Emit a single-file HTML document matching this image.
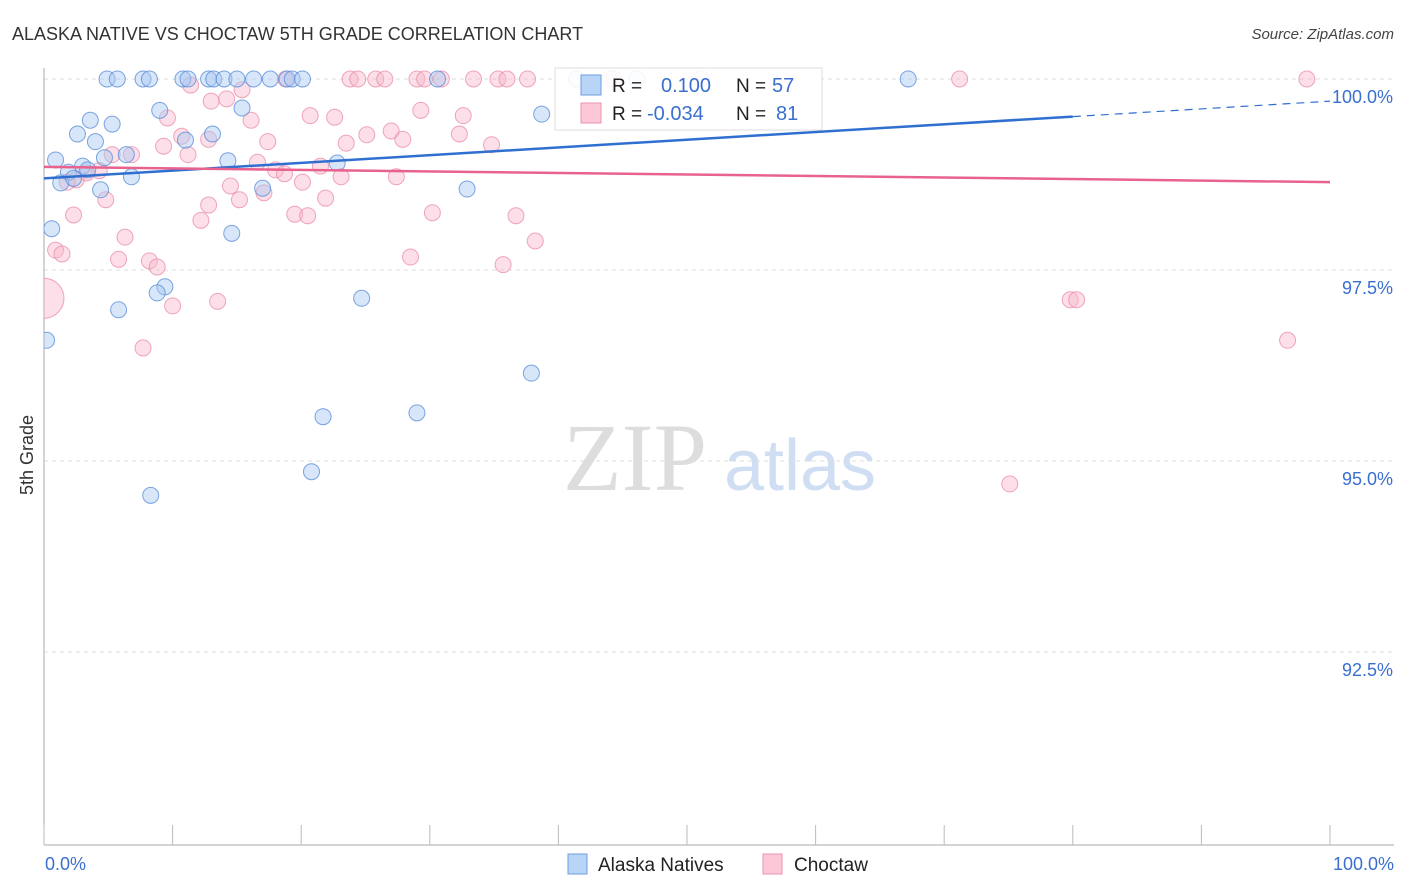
<!DOCTYPE html>
<html><head><meta charset="utf-8"><style>
body{margin:0;background:#fff;font-family:"Liberation Sans",sans-serif;}
svg{display:block}
</style></head><body>
<svg id="chart" width="1406" height="892" xmlns="http://www.w3.org/2000/svg">
<defs><clipPath id="plotclip"><rect x="44" y="40" width="1362" height="805"/></clipPath></defs>
<text x="12" y="40" font-size="18" fill="#333">ALASKA NATIVE VS CHOCTAW 5TH GRADE CORRELATION CHART</text>
<text x="1394" y="39" font-size="15" fill="#444" text-anchor="end" font-style="italic">Source: ZipAtlas.com</text>
<g>
<text x="635" y="490" font-size="96" fill="#ddd" font-family="Liberation Serif,serif" text-anchor="middle">ZIP</text>
<text x="800" y="490" font-size="72" fill="#d0def3" text-anchor="middle">atlas</text>
</g>
<g id="grid"></g>
<g id="axes"></g>
<g id="points" clip-path="url(#plotclip)"></g>
<g id="trends"></g>
<text transform="translate(33,455) rotate(-90)" font-size="18" fill="#333" text-anchor="middle">5th Grade</text>
<g>
<rect x="555" y="68" width="267" height="62" fill="#fff" fill-opacity="0.9" stroke="#ddd"/>
<rect x="581" y="75" width="20" height="20" fill="#b8d4f7" stroke="#6c9ee0"/>
<rect x="581" y="103" width="20" height="20" fill="#fcc8d8" stroke="#ec93af"/>
<text x="612" y="92" font-size="19" fill="#222">R = </text><text x="661" y="92" font-size="20" fill="#3a6fd0">0.100</text>
<text x="736" y="92" font-size="19" fill="#222">N = </text><text x="772" y="92" font-size="20" fill="#3a6fd0">57</text>
<text x="612" y="120" font-size="19" fill="#222">R = </text><text x="647" y="120" font-size="20" fill="#3a6fd0">-0.034</text>
<text x="736" y="120" font-size="19" fill="#222">N = </text><text x="776" y="120" font-size="20" fill="#3a6fd0">81</text>
</g>
<g>
<rect x="568" y="854" width="19" height="20" fill="#b8d4f7" stroke="#6c9ee0"/>
<text x="598" y="871" font-size="19" fill="#222">Alaska Natives</text>
<rect x="763" y="854" width="19" height="20" fill="#fcc8d8" stroke="#ec93af"/>
<text x="794" y="871" font-size="19" fill="#222">Choctaw</text>
</g>
</svg>
<script>
const yTicks=[100,97.5,95,92.5];
const yTickLabels=["100.0%","97.5%","95.0%","92.5%"];
const xTickCount=10;
const blueX=[4.9,5.7,7.7,8.2,10.8,11.2,12.8,13.2,14.0,15.0,16.3,17.6,18.9,19.3,20.1,30.6,41.4,67.2,46.1,9.0,3.6,5.3,2.6,4.0,13.1,11.0,0.9,6.4,4.7,3.0,1.9,3.4,14.3,22.8,1.3,6.8,4.4,17.0,32.9,38.7,15.4,0.6,14.6,9.4,8.8,24.7,5.8,0.2,37.9,21.7,29.0,20.8,8.3,2.3];
const blueY=[100,100,100,100,100,100,100,100,100,100,100,100,100,100,100,100,100,100,100,99.59,99.46,99.41,99.28,99.18,99.28,99.20,98.94,99.01,98.97,98.86,98.78,98.81,98.93,98.90,98.64,98.72,98.55,98.57,98.56,99.54,99.62,98.04,97.98,97.28,97.20,97.13,96.98,96.58,96.15,95.58,95.63,94.86,94.55,98.70];
const pinkX=[11.4,13.0,15.4,9.6,14.2,11.2,16.1,20.7,22.6,29.3,32.6,10.7,12.8,17.4,9.3,5.3,6.8,4.3,3.3,2.5,1.8,4.8,2.3,6.3,0.9,1.4,5.8,8.2,8.8,10.0,13.5,7.7,16.6,18.0,18.7,21.5,23.1,20.1,14.5,17.1,15.2,12.8,12.2,19.5,20.5,21.9,23.5,25.1,27.0,27.9,27.4,30.2,32.3,34.8,36.7,38.2,35.7,28.5,79.8,80.3,96.7,75.1,18.8,23.8,24.4,25.8,26.5,29.0,29.6,30.9,33.4,35.3,36.0,37.6,44.3,51.1,71.2,98.2,44.0];
const pinkY=[99.92,99.71,99.86,99.49,99.74,99.01,99.46,99.52,99.50,99.59,99.52,99.25,99.21,99.18,99.12,99.01,99.01,98.80,98.77,98.68,98.65,98.42,98.22,97.93,97.76,97.71,97.64,97.62,97.54,97.03,97.09,96.48,98.91,98.81,98.76,98.86,98.72,98.65,98.60,98.51,98.42,98.35,98.15,98.23,98.21,98.44,99.16,99.27,99.32,99.21,98.72,98.25,99.28,99.14,98.21,97.88,97.57,97.67,97.11,97.11,96.58,94.70,100,100,100,100,100,100,100,100,100,100,100,100,100,100,100,100,100];
const bigPoint=[0,97.13];
const blueTrend=[98.70,99.71];
const pinkTrend=[98.85,98.65];
const NS="http://www.w3.org/2000/svg";
const X0=44,X1=1330,Y100=79,PX=191/2.5;
const sx=v=>X0+(X1-X0)*v/100;
const sy=v=>Y100+(100-v)*PX;
function mk(tag,attrs,parent){const e=document.createElementNS(NS,tag);for(const k in attrs)e.setAttribute(k,attrs[k]);document.getElementById(parent).appendChild(e);return e;}
yTicks.forEach((t,i)=>{
 const l=mk('line',{x1:X0,x2:1394,y1:sy(t),y2:sy(t),stroke:'#ddd','stroke-dasharray':'4,4'},'grid');
 
 
 const tx=mk('text',{x:1393,y:sy(t)+24,'font-size':18,fill:'#3a6fd0','text-anchor':'end'},'grid');
 tx.textContent=yTickLabels[i];
 
 
});
let a=mk('line',{x1:X0,x2:X0,y1:68,y2:845,stroke:'#aaa'},'axes');


a=mk('line',{x1:X0,x2:1394,y1:845,y2:845,stroke:'#aaa'},'axes');


for(let i=0;i<=xTickCount;i++){const v=i*100/xTickCount;const t=mk('line',{x1:sx(v),x2:sx(v),y1:825,y2:845,stroke:'#bbb'},'axes');
 
 }
a=mk('text',{x:45,y:870,'font-size':18,fill:'#3a6fd0'},'axes');a.textContent='0.0%';


a=mk('text',{x:1394,y:870,'font-size':18,fill:'#3a6fd0','text-anchor':'end'},'axes');a.textContent='100.0%';


pinkX.forEach((x,i)=>{const c=mk('circle',{cx:sx(x),cy:sy(pinkY[i]),r:8,fill:'#f9b9cd','fill-opacity':0.45,stroke:'#e8859f','stroke-opacity':0.7},'points');
 
 });
let bp=mk('circle',{cx:sx(bigPoint[0]),cy:sy(bigPoint[1]),r:20,fill:'#f9b9cd','fill-opacity':0.45,stroke:'#e8859f','stroke-opacity':0.7},'points');


blueX.forEach((x,i)=>{const c=mk('circle',{cx:sx(x),cy:sy(blueY[i]),r:8,fill:'#a9c8f2','fill-opacity':0.45,stroke:'#5b8fd8','stroke-opacity':0.8},'points');
 
 });
const bAt=v=>blueTrend[0]+(blueTrend[1]-blueTrend[0])*v/100;
let t=mk('line',{x1:sx(0),y1:sy(bAt(0)),x2:sx(80),y2:sy(bAt(80)),stroke:'#2f6fd0','stroke-width':2.5},'trends');


t=mk('line',{x1:sx(80),y1:sy(bAt(80)),x2:sx(100),y2:sy(bAt(100)),stroke:'#2f6fd0','stroke-width':1.2,'stroke-dasharray':'8,6'},'trends');


t=mk('line',{x1:sx(0),y1:sy(pinkTrend[0]),x2:sx(100),y2:sy(pinkTrend[1]),stroke:'#e8628e','stroke-width':2.5},'trends');


</script>
</body></html>
